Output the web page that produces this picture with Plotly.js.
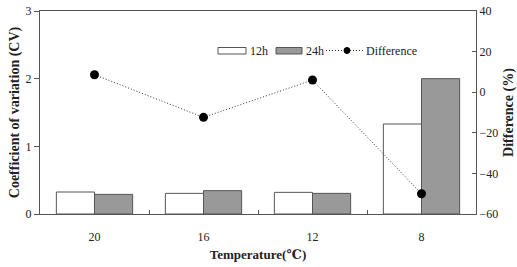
<!DOCTYPE html>
<html><head><meta charset="utf-8">
<script src="https://cdn.plot.ly/plotly-3.0.1.min.js"></script>
<style>html,body{margin:0;padding:0;background:#fff}</style>
</head><body><div id="chart" style="width:517px;height:267px"></div>
<script>
var categories = ["20", "16", "12", "8"];
var cv12h = [0.325, 0.305, 0.32, 1.33];
var cv24h = [0.29, 0.345, 0.305, 2.0];
var difference = [8.6, -12.4, 6.0, -50.0];
var legendLabels = ["12h", "24h", "Difference"];

var fontFam = "'Times New Roman', 'Liberation Serif', 'DejaVu Serif', serif";
var traces = [
  {type: "bar", name: legendLabels[0], x: categories, y: cv12h,
   marker: {color: "#ffffff", line: {color: "#555555", width: 1}}},
  {type: "bar", name: legendLabels[1], x: categories, y: cv24h,
   marker: {color: "#999999", line: {color: "#555555", width: 1}}},
  {type: "scatter", mode: "lines+markers", name: legendLabels[2], x: categories, y: difference,
   yaxis: "y2", line: {color: "#333333", width: 1, dash: "1px,2px"},
   marker: {color: "#000000", size: 9, symbol: "circle"}}
];
function px(x) { return (x - 40) / 436; }
function py(y) { return (214 - y) / 203; }
var shapes = [
  {type: "rect", xref: "paper", yref: "paper", x0: px(218), x1: px(246), y0: py(54), y1: py(47.5),
   fillcolor: "#ffffff", line: {color: "#555555", width: 1}},
  {type: "rect", xref: "paper", yref: "paper", x0: px(276), x1: px(302), y0: py(54), y1: py(47.5),
   fillcolor: "#999999", line: {color: "#555555", width: 1}},
  {type: "line", xref: "paper", yref: "paper", x0: px(326), x1: px(363), y0: py(50.5), y1: py(50.5),
   line: {color: "#333333", width: 1, dash: "1px,2px"}},
  {type: "circle", xref: "paper", yref: "paper", x0: px(344), x1: px(350), y0: py(53.5), y1: py(47.5),
   fillcolor: "#000000", line: {color: "#000000", width: 1}}
];
var annotations = [
  {xref: "paper", yref: "paper", x: px(248), y: py(50.5), xanchor: "left", yanchor: "middle",
   text: legendLabels[0], showarrow: false, font: {family: fontFam, size: 12, color: "#222"}},
  {xref: "paper", yref: "paper", x: px(304), y: py(50.5), xanchor: "left", yanchor: "middle",
   text: legendLabels[1], showarrow: false, font: {family: fontFam, size: 12, color: "#222"}},
  {xref: "paper", yref: "paper", x: px(364), y: py(50.5), xanchor: "left", yanchor: "middle",
   text: legendLabels[2], showarrow: false, font: {family: fontFam, size: 12, color: "#222"}}
];
var layout = {
  width: 517, height: 267,
  margin: {l: 40, r: 41, t: 11, b: 53},
  paper_bgcolor: "#ffffff", plot_bgcolor: "#ffffff",
  font: {family: fontFam, size: 12, color: "#222222"},
  barmode: "group", bargap: 0.3, bargroupgap: 0,
  showlegend: false,
  shapes: shapes, annotations: annotations,
  xaxis: {type: "category", showline: true, linecolor: "#555555", linewidth: 1, mirror: true,
          ticks: "inside", tickson: "boundaries", ticklen: 4, tickcolor: "#555555",
          showgrid: false, zeroline: false, ticklabelstandoff: 12,
          tickfont: {family: fontFam, size: 12, color: "#222"},
          title: {text: "<b>Temperature(\u2103)</b>", standoff: 6,
                  font: {family: fontFam, size: 13, color: "#222"}}},
  yaxis: {range: [0, 3], tickvals: [0, 1, 2, 3], showline: true, linecolor: "#555555", linewidth: 1,
          ticks: "outside", ticklen: 5, tickcolor: "#555555", showgrid: false, zeroline: false,
          tickfont: {family: fontFam, size: 12, color: "#222"},
          title: {text: "<b>Coefficient of variation (CV)</b>", standoff: 2,
                  font: {family: fontFam, size: 14, color: "#222"}}},
  yaxis2: {range: [-60, 40], tickvals: [-60, -40, -20, 0, 20, 40], overlaying: "y", side: "right",
           showline: true, linecolor: "#555555", linewidth: 1,
           ticks: "inside", ticklen: 4, tickcolor: "#555555", showgrid: false, zeroline: false,
           tickfont: {family: fontFam, size: 12, color: "#222"},
           title: {text: "<b>Difference (%)</b>", standoff: 8,
                   font: {family: fontFam, size: 14, color: "#222"}}}
};
Plotly.newPlot("chart", traces, layout, {displayModeBar: false, staticPlot: true});
</script></body></html>
